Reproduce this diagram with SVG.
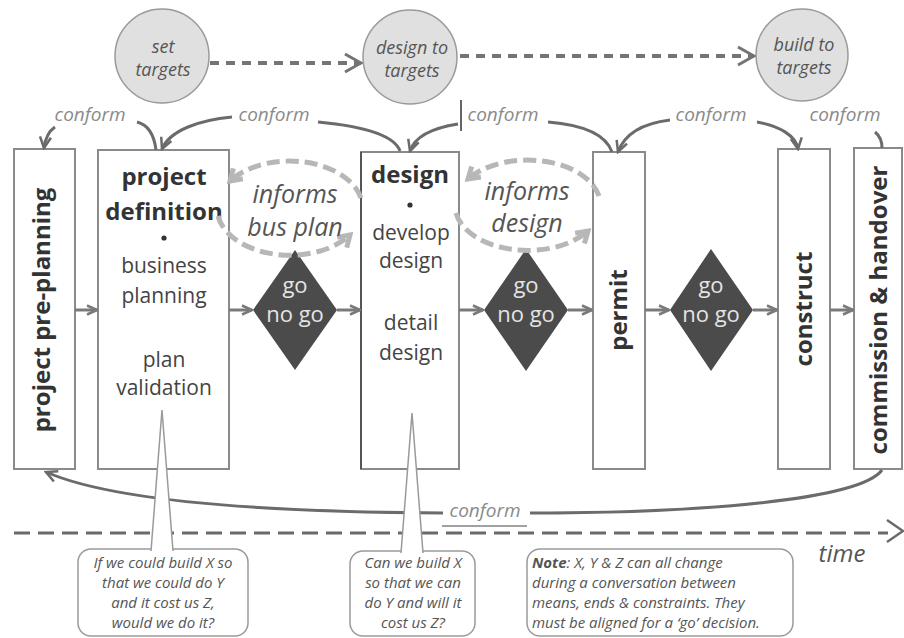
<svg xmlns="http://www.w3.org/2000/svg" width="904" height="638" viewBox="0 0 904 638">
  <style>
    text{font-family:"Open Sans","Liberation Sans",sans-serif}
    .box{fill:#fff;stroke:#8a8a8a;stroke-width:2}
    .vlab{font-weight:bold;font-size:24px;fill:#333;text-anchor:middle}
    .hd{font-weight:bold;font-size:24px;fill:#333;text-anchor:middle}
    .bd{font-size:21px;fill:#444;text-anchor:middle}
    .dot{fill:#333}
    .dia{fill:#4b4b4b}
    .go{font-size:22px;fill:#e4e4e4;text-anchor:middle}
    .tgt{fill:#e0e0e0;stroke:#9a9a9a;stroke-width:1.5}
    .tgtl{font-style:italic;font-size:18px;fill:#555;text-anchor:middle}
    .flow{stroke:#7a7a7a;stroke-width:3;fill:none;marker-end:url(#ah)}
    .conf{stroke:#6b6b6b;stroke-width:3;fill:none}
    .confa{marker-end:url(#ch)}
    .clab{font-style:italic;font-size:19px;fill:#8a8a8a;text-anchor:middle}
    .inf{stroke:#b7b7b7;stroke-width:5;fill:none;stroke-dasharray:13 6;marker-end:url(#ih)}
    .infl{font-style:italic;font-size:25px;fill:#555;text-anchor:middle}
    .tdash{stroke:#747474;stroke-width:4;fill:none;stroke-dasharray:9 7;marker-end:url(#th)}
    .time{stroke:#6a6a6a;stroke-width:3;fill:none;stroke-dasharray:16 8}
    .call{fill:#fff;stroke:#9a9a9a;stroke-width:1.5}
    .ctx{font-style:italic;font-size:15px;fill:#555;text-anchor:middle}
    .ntx{font-style:italic;font-size:15px;fill:#555}
  </style>
  <defs>
    <marker id="ah" markerUnits="userSpaceOnUse" viewBox="0 0 12 12" refX="11" refY="6" markerWidth="12" markerHeight="12" orient="auto">
      <path d="M1,1.5 L11,6 L1,10.5" fill="none" stroke="#7a7a7a" stroke-width="2.5"/>
    </marker>
    <marker id="ch" markerUnits="userSpaceOnUse" viewBox="0 0 14 14" refX="12" refY="7" markerWidth="14" markerHeight="14" orient="auto">
      <path d="M1,1.5 L12,7 L1,12.5" fill="none" stroke="#6b6b6b" stroke-width="2.5"/>
    </marker>
    <marker id="th" markerUnits="userSpaceOnUse" viewBox="0 0 20 22" refX="18" refY="11" markerWidth="20" markerHeight="22" orient="auto">
      <path d="M2,2 L18,11 L2,20" fill="none" stroke="#747474" stroke-width="3"/>
    </marker>
    <marker id="ih" markerUnits="userSpaceOnUse" viewBox="0 0 18 18" refX="14" refY="9" markerWidth="18" markerHeight="18" orient="auto">
      <path d="M3,2 L14,9 L3,16" fill="none" stroke="#b7b7b7" stroke-width="5"/>
    </marker>
  </defs>

  <!-- target circles along the top -->
  <g id="set-targets">
    <circle class="tgt" cx="162" cy="56" r="47"/>
    <text class="tgtl" x="163" y="53">set</text>
    <text class="tgtl" x="163" y="76">targets</text>
  </g>
  <g id="design-to-targets">
    <circle class="tgt" cx="410" cy="57" r="47"/>
    <text class="tgtl" x="412" y="54">design to</text>
    <text class="tgtl" x="412" y="77">targets</text>
  </g>
  <g id="build-to-targets">
    <circle class="tgt" cx="802" cy="55" r="46"/>
    <text class="tgtl" x="804" y="51">build to</text>
    <text class="tgtl" x="804" y="74">targets</text>
  </g>

  <!-- stage boxes -->
  <g id="pre-planning">
    <rect class="box" x="14" y="149" width="61" height="320"/>
    <text class="vlab" transform="translate(50,310) rotate(-90)">project pre-planning</text>
  </g>
  <g id="project-definition">
    <rect class="box" x="98" y="150" width="131" height="319"/>
    <text class="hd" x="164" y="185">project</text>
    <text class="hd" x="164" y="220">definition</text>
    <circle class="dot" cx="164" cy="238" r="2.6"/>
    <text class="bd" x="164" y="273">business</text>
    <text class="bd" x="164" y="303">planning</text>
    <text class="bd" x="164" y="367">plan</text>
    <text class="bd" x="164" y="395">validation</text>
  </g>
  <g id="design">
    <rect class="box" x="361" y="152" width="98" height="317"/>
    <line x1="361" y1="152" x2="361" y2="469" stroke="#555" stroke-width="2"/>
    <text class="hd" x="410" y="183">design</text>
    <circle class="dot" cx="410" cy="205" r="2.6"/>
    <text class="bd" x="411" y="240">develop</text>
    <text class="bd" x="411" y="268">design</text>
    <text class="bd" x="411" y="330">detail</text>
    <text class="bd" x="411" y="360">design</text>
  </g>
  <g id="permit">
    <rect class="box" x="593" y="152" width="52" height="317"/>
    <text class="vlab" transform="translate(627,310) rotate(-90)">permit</text>
  </g>
  <g id="construct">
    <rect class="box" x="778" y="149" width="52" height="320"/>
    <text class="vlab" transform="translate(812,309) rotate(-90)">construct</text>
  </g>
  <g id="commission-handover">
    <rect class="box" x="854" y="148" width="48" height="321"/>
    <text class="vlab" transform="translate(887,310) rotate(-90)">commission &amp; handover</text>
  </g>

  <!-- go / no go gates -->
  <g id="gate-1">
    <polygon class="dia" points="295,250 337,310 295,370 253,310"/>
    <text class="go" x="295" y="293">go</text>
    <text class="go" x="295" y="322">no go</text>
  </g>
  <g id="gate-2">
    <polygon class="dia" points="526,249 568,310 526,371 484,310"/>
    <text class="go" x="526" y="293">go</text>
    <text class="go" x="526" y="322">no go</text>
  </g>
  <g id="gate-3">
    <polygon class="dia" points="711,249 753,310 711,371 670,310"/>
    <text class="go" x="711" y="293">go</text>
    <text class="go" x="711" y="322">no go</text>
  </g>

  <!-- connectors -->
  <g id="connectors">
    <!-- target progression -->
    <path class="tdash" d="M210,63 L361,63"/>
    <path class="tdash" d="M460,56 L754,56"/>

    <!-- main flow -->
    <path class="flow" d="M75,310 L97,310"/>
    <path class="flow" d="M229,310 L252,310"/>
    <path class="flow" d="M337,310 L360,310"/>
    <path class="flow" d="M459,310 L483,310"/>
    <path class="flow" d="M568,310 L592,310"/>
    <path class="flow" d="M645,310 L669,310"/>
    <path class="flow" d="M753,310 L777,310"/>
    <path class="flow" d="M830,310 L853,310"/>

    <!-- conform feedback along the top -->
    <path class="conf confa" d="M55,127 Q46,133 44,148"/>
    <path class="conf" d="M137,122 Q153,126 156,150"/>
    <path class="conf confa" d="M232,117 C200,120 170,130 162,149"/>
    <path class="conf" d="M318,122 C360,126 394,134 400,151"/>
    <path class="conf confa" d="M458,124 C432,128 415,136 410,151"/>
    <path class="conf" d="M548,122 C585,125 606,135 612,152"/>
    <path class="conf confa" d="M670,120 C645,123 625,133 618,152"/>
    <path class="conf confa" d="M757,122 C780,126 796,136 798,149"/>
    <path class="conf" d="M875,132 C880,136 882,142 882,148"/>
    <line x1="461" y1="100" x2="461" y2="131" stroke="#333" stroke-width="1.5"/>

    <!-- informs loops -->
    <path class="inf" d="M361,198 A73,47 0 0 0 230,181"/>
    <path class="inf" d="M218,216 A73,47 0 0 0 350,235"/>
    <path class="inf" d="M599,196 A73,45 0 0 0 468,179"/>
    <path class="inf" d="M456,213 A73,45 0 0 0 588,231"/>

    <!-- conform feedback along the bottom -->
    <path class="conf confa" d="M443,513 C250,512 110,500 46,472"/>
    <path class="conf" d="M530,513 C700,513 860,500 882,470"/>
    <line x1="442" y1="526" x2="527" y2="526" stroke="#444" stroke-width="1"/>

    <!-- time axis -->
    <path class="time" d="M14,533 L888,533"/>
    <path d="M887,520 L903,531 L887,542" fill="none" stroke="#6a6a6a" stroke-width="2.5"/>
  </g>

  <!-- connector labels -->
  <g id="labels">
    <text class="clab" x="90" y="121">conform</text>
    <text class="clab" x="274" y="121">conform</text>
    <text class="clab" x="503" y="121">conform</text>
    <text class="clab" x="711" y="121">conform</text>
    <text class="clab" x="845" y="121">conform</text>
    <text class="clab" x="485" y="517">conform</text>
    <text class="infl" x="295" y="203">informs</text>
    <text class="infl" x="295" y="236">bus plan</text>
    <text class="infl" x="527" y="200">informs</text>
    <text class="infl" x="527" y="232">design</text>
    <text x="842" y="562" font-style="italic" font-size="24" fill="#555" text-anchor="middle">time</text>
  </g>

  <!-- callouts -->
  <g id="callout-definition">
    <rect class="call" x="78" y="549" width="170" height="87" rx="13"/>
    <path class="call" d="M151,551 L162,410 L173,551"/>
    <text class="ctx" x="163" y="568">If we could build X so</text>
    <text class="ctx" x="163" y="588">that we could do Y</text>
    <text class="ctx" x="163" y="608">and it cost us Z,</text>
    <text class="ctx" x="163" y="628">would we do it?</text>
  </g>
  <g id="callout-design">
    <rect class="call" x="350" y="551" width="125" height="85" rx="13"/>
    <path class="call" d="M401,553 L412,413 L423,553"/>
    <text class="ctx" x="413" y="568">Can we build X</text>
    <text class="ctx" x="413" y="588">so that we can</text>
    <text class="ctx" x="413" y="608">do Y and will it</text>
    <text class="ctx" x="413" y="628">cost us Z?</text>
  </g>
  <g id="callout-note">
    <rect class="call" x="527" y="549" width="266" height="87" rx="13"/>
    <text class="ntx" x="532" y="568"><tspan font-weight="bold">Note</tspan>: X, Y &amp; Z can all change</text>
    <text class="ntx" x="532" y="588">during a conversation between</text>
    <text class="ntx" x="532" y="608">means, ends &amp; constraints. They</text>
    <text class="ntx" x="532" y="628">must be aligned for a ‘go’ decision.</text>
  </g>
</svg>
